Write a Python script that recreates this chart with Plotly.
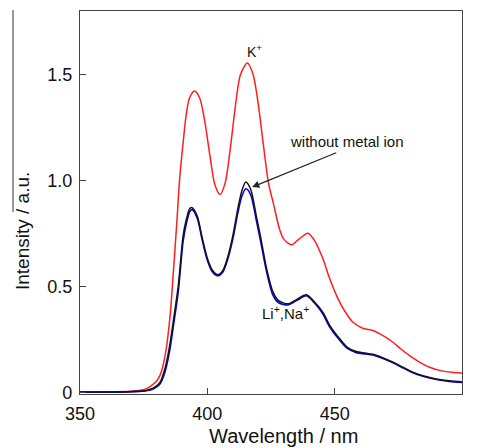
import plotly.graph_objects as go

# Wavelength (nm) and intensity (a.u.)
k_wl = [350, 360, 370, 375, 377.5, 380, 381.5, 383, 384, 385.5, 386.6, 388, 389.2, 390.5,
        391.8, 393, 395, 397, 399, 401, 403, 405, 407, 409, 411, 413, 415.7, 418, 420,
        422, 424, 426, 428.4, 430, 433, 436, 439.5, 442, 445.4, 448, 450.7, 454, 457.2,
        461, 465, 469, 472.9, 476, 479.4, 483, 487.3, 492, 496, 500]
k_int = [0.005, 0.005, 0.008, 0.015, 0.03, 0.055, 0.085, 0.15, 0.22, 0.38, 0.56, 0.80, 1.02, 1.18,
         1.32, 1.39, 1.423, 1.39, 1.28, 1.12, 0.98, 0.935, 0.99, 1.15, 1.35, 1.50, 1.555, 1.50, 1.36,
         1.17, 0.99, 0.89, 0.77, 0.725, 0.698, 0.725, 0.753, 0.72, 0.632, 0.54, 0.46, 0.385, 0.333,
         0.305, 0.294, 0.27, 0.239, 0.207, 0.176, 0.148, 0.121, 0.104, 0.097, 0.093]

free_wl = [350, 365, 372, 376, 378.7, 381.4, 383, 384, 385.3, 386.6, 388.6, 390.5, 391.8,
           393.1, 394, 396, 398, 400, 402, 404, 406, 408, 410, 412, 413.5, 415.1, 417, 419.3,
           421, 423.2, 425.8, 428, 431.7, 435, 438.9, 442, 445.4, 448, 452, 455, 458.5, 462,
           465, 469, 472.9, 477, 480.7, 485, 489.9, 495, 500]
free_int = [0.005, 0.005, 0.008, 0.012, 0.022, 0.05, 0.10, 0.146, 0.23, 0.335, 0.506, 0.742, 0.82,
            0.869, 0.873, 0.835, 0.73, 0.635, 0.578, 0.557, 0.575, 0.64, 0.74, 0.87, 0.95, 0.994, 0.96, 0.83,
            0.73, 0.59, 0.475, 0.435, 0.42, 0.44, 0.463, 0.43, 0.38, 0.32, 0.255, 0.215, 0.195, 0.188,
            0.182, 0.165, 0.145, 0.12, 0.098, 0.08, 0.066, 0.057, 0.053]

lina_wl = free_wl
lina_int = [0.003, 0.004, 0.006, 0.010, 0.018, 0.042, 0.085, 0.128, 0.205, 0.31, 0.48, 0.715, 0.80,
            0.855, 0.864, 0.825, 0.72, 0.625, 0.57, 0.552, 0.568, 0.63, 0.725, 0.85, 0.925, 0.962, 0.935, 0.81,
            0.71, 0.575, 0.46, 0.425, 0.415, 0.435, 0.458, 0.425, 0.372, 0.312, 0.248, 0.21, 0.19, 0.184,
            0.179, 0.162, 0.142, 0.117, 0.095, 0.077, 0.063, 0.054, 0.05]

x_ticks = [350, 400, 450, 500]
y_ticks = [0, 0.5, 1.0, 1.5]
y_tick_text = ["0", "0.5", "1.0", "1.5"]

FONT = "Liberation Sans, Arial, Helvetica, sans-serif"

fig = go.Figure()
fig.add_trace(go.Scatter(x=k_wl, y=k_int, mode="lines", line=dict(color="rgb(255,30,30)", width=1.5, shape="spline", smoothing=0.8), name="K+"))
fig.add_trace(go.Scatter(x=lina_wl, y=lina_int, mode="lines", line=dict(color="rgb(0,0,235)", width=1.6, shape="spline", smoothing=0.8), name="Li+,Na+"))
fig.add_trace(go.Scatter(x=free_wl, y=free_int, mode="lines", line=dict(color="rgb(20,20,20)", width=1.5, shape="spline", smoothing=0.8), name="free"))

fig.update_layout(
    width=477, height=448,
    margin=dict(l=80, r=15, t=11, b=54),
    paper_bgcolor="white", plot_bgcolor="white",
    showlegend=False,
    font=dict(family=FONT, color="#111"),
    xaxis=dict(range=[350, 500], tickvals=x_ticks, ticks="inside", ticklen=6, tickcolor="#444",
               showline=True, mirror=True, linecolor="#444", linewidth=1.3, showgrid=False,
               zeroline=False, tickfont=dict(size=18, family=FONT, color="#111"), ticklabelstandoff=3),
    yaxis=dict(range=[-0.005, 1.8], tickvals=y_ticks, ticktext=y_tick_text, ticks="inside", ticklen=6,
               tickcolor="#444", showline=True, mirror=True, linecolor="#444", linewidth=1.3,
               showgrid=False, zeroline=False, tickfont=dict(size=18, family=FONT, color="#111"),
               ticklabelstandoff=3),
    annotations=[
        dict(x=418.6, y=1.61, xref="x", yref="y", text="K<sup>+</sup>", showarrow=False,
             font=dict(size=14, family=FONT, color="#111")),
        dict(x=454.9, y=1.187, xref="x", yref="y", text="without metal ion", showarrow=False,
             font=dict(size=15, family=FONT, color="#111")),
        dict(x=417.6, y=0.97, xref="x", yref="y", ax=451.2, ay=1.135, axref="x", ayref="y",
             text="", showarrow=True, arrowhead=2, arrowsize=1.2, arrowwidth=1.2, arrowcolor="#222"),
        dict(x=430.8, y=0.377, xref="x", yref="y", text="Li<sup>+</sup>,Na<sup>+</sup>", showarrow=False,
             font=dict(size=15, family=FONT, color="#111")),
        dict(x=(283.8 - 80) / 382, y=(394 - 436) / 383, xref="paper", yref="paper",
             text="Wavelength / nm", showarrow=False, xanchor="center", yanchor="middle",
             font=dict(size=20, family=FONT, color="#111")),
        dict(x=(22 - 80) / 382, y=(394 - 231) / 383, xref="paper", yref="paper",
             text="Intensity / a.u.", showarrow=False, textangle=-90, xanchor="center", yanchor="middle",
             font=dict(size=19, family=FONT, color="#111")),
    ],
    shapes=[
        dict(type="line", xref="paper", yref="paper", x0=(13 - 80) / 382, x1=(13 - 80) / 382,
             y0=(394 - 10) / 383, y1=(394 - 212) / 383, line=dict(color="#333", width=1)),
    ],
)

fig.write_html("out.html")
